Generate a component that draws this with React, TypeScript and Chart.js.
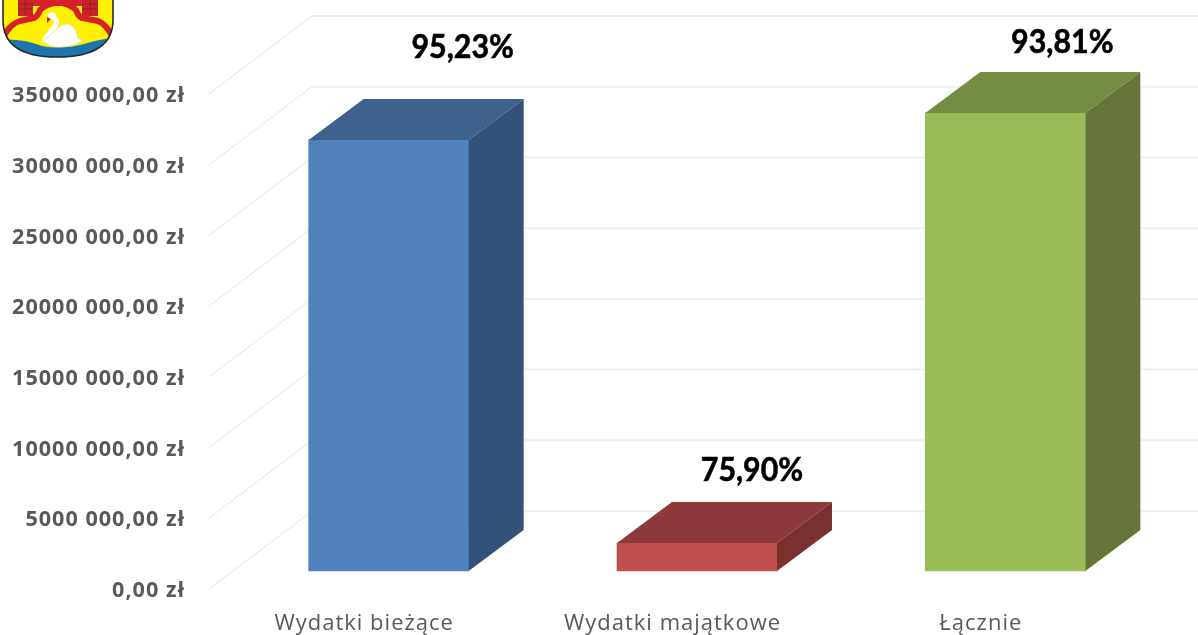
import React, { useEffect, useRef } from "react";
import { Chart, registerables } from "chart.js";

Chart.register(...registerables);

const categories = ["Wydatki bieżące", "Wydatki majątkowe", "Łącznie"];
const expenditure = [30480000, 1980000, 32390000];
const percentLabels = ["95,23%", "75,90%", "93,81%"];
const frontColors = ["#4F81BD", "#C0504D", "#9BBB59"];
const topColors = ["#3C618E", "#8E3939", "#758D43"];
const sideColors = ["#325279", "#7A302E", "#657537"];

const BAR_SHIFT = { x: 24.5, y: -18 };
const BAR_DEPTH = { x: 55, y: -41 };
const WALL_DEPTH = { x: 103, y: -78 };
const LABEL_OFFSET = [
  { x: 74, y: -93 },
  { x: 55, y: -73 },
  { x: 57, y: -71 },
];
const Y_LABEL_DROP = 2;

const box3d = {
  id: "box3d",
  beforeDraw(chart: any) {
    chart.ctx.letterSpacing = "1px";
    const y = chart.scales.y;
    if (!y.__dropped) {
      y.__dropped = true;
      const original = y.drawLabels;
      y.drawLabels = function (area: any) {
        chart.ctx.save();
        chart.ctx.translate(0, Y_LABEL_DROP);
        original.call(this, area);
        chart.ctx.restore();
      };
    }
  },
  beforeDatasetsDraw(chart: any) {
    const { ctx, scales } = chart;
    const y = scales.y;
    const left = chart.chartArea.left;
    ctx.save();
    y.ticks.forEach((t: any) => {
      const py = y.getPixelForValue(t.value);
      ctx.beginPath();
      ctx.moveTo(left - 1, py);
      ctx.lineTo(left - 1 + WALL_DEPTH.x, py + WALL_DEPTH.y);
      ctx.strokeStyle = "#E4E4E4";
      ctx.lineWidth = 1;
      ctx.stroke();
      ctx.beginPath();
      ctx.moveTo(left - 1 + WALL_DEPTH.x, py + WALL_DEPTH.y);
      ctx.lineTo(chart.width, py + WALL_DEPTH.y);
      ctx.strokeStyle = "#EEEEEE";
      ctx.lineWidth = 2;
      ctx.stroke();
    });
    ctx.restore();
    ctx.save();
    ctx.translate(BAR_SHIFT.x, BAR_SHIFT.y);
  },
  afterDatasetsDraw(chart: any) {
    const { ctx } = chart;
    const bars = chart.getDatasetMeta(0).data;
    bars.forEach((bar: any, i: number) => {
      const l = bar.x - bar.width / 2;
      const r = bar.x + bar.width / 2;
      const t = bar.y;
      const b = bar.base;
      const dx = BAR_DEPTH.x;
      const dy = BAR_DEPTH.y;
      ctx.fillStyle = topColors[i];
      ctx.beginPath();
      ctx.moveTo(l, t);
      ctx.lineTo(l + dx, t + dy);
      ctx.lineTo(r + dx, t + dy);
      ctx.lineTo(r, t);
      ctx.closePath();
      ctx.fill();
      ctx.fillStyle = sideColors[i];
      ctx.beginPath();
      ctx.moveTo(r, t);
      ctx.lineTo(r + dx, t + dy);
      ctx.lineTo(r + dx, b + dy);
      ctx.lineTo(r, b);
      ctx.closePath();
      ctx.fill();
    });
    ctx.restore();
    ctx.save();
    ctx.letterSpacing = "0px";
    ctx.font = "bold 33px Lato";
    ctx.fillStyle = "#000000";
    ctx.strokeStyle = "#000000";
    ctx.lineWidth = 0.6;
    ctx.textAlign = "center";
    ctx.textBaseline = "middle";
    bars.forEach((bar: any, i: number) => {
      ctx.save();
      ctx.translate(
        bar.x + BAR_SHIFT.x + LABEL_OFFSET[i].x,
        bar.y + BAR_SHIFT.y + LABEL_OFFSET[i].y
      );
      ctx.scale(0.92, 1);
      ctx.fillText(percentLabels[i], 0, 0);
      ctx.strokeText(percentLabels[i], 0, 0);
      ctx.restore();
    });
    ctx.restore();
  },
};

function Crest() {
  return (
    <svg
      width={120}
      height={60}
      viewBox="0 0 120 60"
      style={{ position: "absolute", left: 0, top: 0 }}
    >
      <defs>
        <clipPath id="shield">
          <path d="M3 -3 V20 Q3 57 57 57 Q113 57 113 20 V-3 Z" />
        </clipPath>
      </defs>
      <g clipPath="url(#shield)">
        <rect x={0} y={-3} width={120} height={64} fill="#FFF200" />
        <rect x={18} y={-3} width={15} height={19} fill="#C8232C" />
        <rect x={82} y={-3} width={16} height={19} fill="#C8232C" />
        <rect x={33} y={-3} width={49} height={9} fill="#D6202A" />
        <path
          d="M18 4 H33 M18 9 H33 M82 4 H98 M82 9 H98 M25 -3 V14 M90 -3 V14"
          stroke="#8C1C20"
          strokeWidth={0.8}
        />
        <path
          d="M4 36 Q10 24 20 21 L34 18 Q38 16 40 10 Q46 4 58 2 Q70 4 76 10 Q78 16 82 18 L98 21 Q106 24 112 36"
          fill="none"
          stroke="#D6202A"
          strokeWidth={6}
        />
        <path d="M0 40 Q20 38 42 46 Q62 50 84 44 Q98 40 120 36 V60 H0 Z" fill="#1D75B0" />
      </g>
      <path
        d="M3 -3 V20 Q3 57 57 57 Q113 57 113 20 V-3"
        fill="none"
        stroke="#2A2A2A"
        strokeWidth={1.6}
      />
      <path
        d="M52 17 Q60 20 54 28 Q46 36 44 42"
        fill="none"
        stroke="#FFFFFF"
        strokeWidth={5}
      />
      <circle cx={52} cy={16} r={4} fill="#FFFFFF" />
      <path
        d="M43 40 Q48 48 62 47 Q76 46 83 40 L78 38 Q76 26 68 24 Q60 24 56 30 Q50 36 43 40 Z"
        fill="#FFFFFF"
        stroke="#C8C8C8"
        strokeWidth={0.5}
      />
      <path d="M47 17 L51 19 L47 23 Z" fill="#D6202A" />
    </svg>
  );
}

export default function App() {
  const ref = useRef<HTMLCanvasElement | null>(null);
  useEffect(() => {
    const chart = new Chart(ref.current!, {
      type: "bar",
      data: {
        labels: categories,
        datasets: [
          {
            data: expenditure,
            backgroundColor: frontColors,
            barThickness: 160,
            clip: false as any,
          },
        ],
      },
      options: {
        responsive: false,
        animation: false,
        layout: { padding: { top: 94, right: 63, bottom: 0, left: 0 } },
        plugins: { legend: { display: false }, tooltip: { enabled: false } },
        scales: {
          x: {
            grid: { display: false, drawTicks: false },
            border: { display: false },
            ticks: {
              color: "#595959",
              font: { family: "Open Sans", size: 22 },
              padding: 22,
              maxRotation: 0,
            },
            afterFit: (s: any) => {
              s.height = 46;
            },
          },
          y: {
            min: 0,
            max: 35000000,
            grid: { display: false, drawTicks: false },
            border: { display: false },
            ticks: {
              stepSize: 5000000,
              color: "#595959",
              font: { family: "Open Sans", size: 21.6, weight: 700 },
              padding: 25,
              callback: (v: any) =>
                v === 0 ? "0,00 zł" : `${Number(v) / 1000} 000,00 zł`,
            },
            afterFit: (s: any) => {
              s.width = 210;
            },
          },
        },
      },
      plugins: [box3d],
    } as any);
    return () => chart.destroy();
  }, []);
  return (
    <div style={{ position: "absolute", left: 0, top: 0, width: 1198, height: 635 }}>
      <canvas ref={ref} width={1198} height={635} style={{ display: "block" }} />
      <Crest />
    </div>
  );
}
